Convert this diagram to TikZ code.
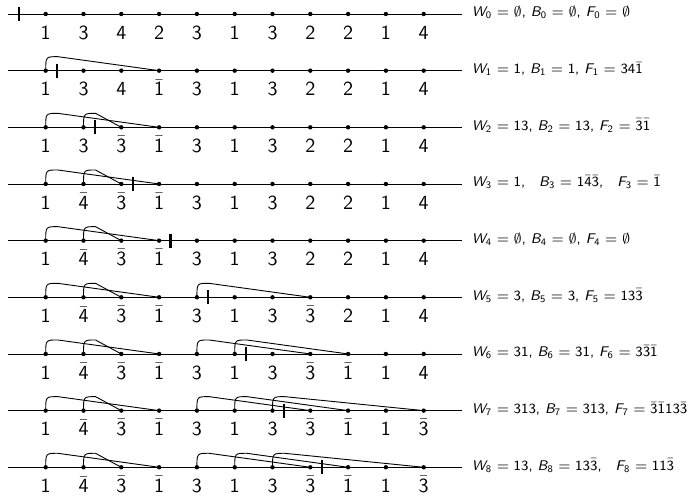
\documentclass[tikz,border=0pt]{standalone}
\usepackage{amsmath}
\tikzset{
  trail/.style={x=18.9pt,y=-28.33pt,font=\sffamily},
  pt/.style={circle,fill,inner sep=0pt,minimum size=2.2pt},
  cut/.style={line width=1.1pt},
  arc/.style={line width=0.45pt},
  digit/.style={anchor=base,inner sep=0.5pt,text height=7.2pt,text depth=0pt,yshift=-12.65pt},
  info/.style={font=\sffamily\fontsize{7}{8}\selectfont,inner sep=0pt,anchor=base west},
}
\newcommand\negl[1]{$\bar{\text{#1}}$}
\newcommand\wbf[3]{$\text{\slshape #1}_{\text{#2}} = \text{#3}$}

\begin{document}
\begin{tikzpicture}[trail]
  \useasboundingbox (-3.95pt,7pt) rectangle (341.55pt,-241.5pt);
  \foreach \r/\labs/\txt in {
    0/{1,3,4,2,3,1,3,2,2,1,4}/{\wbf{W}{0}{$\emptyset$}, \wbf{B}{0}{$\emptyset$}, \wbf{F}{0}{$\emptyset$}},
    1/{1,3,4,\negl{1},3,1,3,2,2,1,4}/{\wbf{W}{1}{1}, \wbf{B}{1}{1}, \wbf{F}{1}{34\negl{1}}},
    2/{1,3,\negl{3},\negl{1},3,1,3,2,2,1,4}/{\wbf{W}{2}{13}, \wbf{B}{2}{13}, \wbf{F}{2}{\negl{3}\negl{1}}},
    3/{1,\negl{4},\negl{3},\negl{1},3,1,3,2,2,1,4}/{\wbf{W}{3}{1},\quad \wbf{B}{3}{1\negl{4}\negl{3}},\quad \wbf{F}{3}{\negl{1}}},
    4/{1,\negl{4},\negl{3},\negl{1},3,1,3,2,2,1,4}/{\wbf{W}{4}{$\emptyset$}, \wbf{B}{4}{$\emptyset$}, \wbf{F}{4}{$\emptyset$}},
    5/{1,\negl{4},\negl{3},\negl{1},3,1,3,\negl{3},2,1,4}/{\wbf{W}{5}{3}, \wbf{B}{5}{3}, \wbf{F}{5}{13\negl{3}}},
    6/{1,\negl{4},\negl{3},\negl{1},3,1,3,\negl{3},\negl{1},1,4}/{\wbf{W}{6}{31}, \wbf{B}{6}{31}, \wbf{F}{6}{3\negl{3}\negl{1}}},
    7/{1,\negl{4},\negl{3},\negl{1},3,1,3,\negl{3},\negl{1},1,\negl{3}}/{\wbf{W}{7}{313}, \wbf{B}{7}{313}, \wbf{F}{7}{\negl{3}\negl{1}13\negl{3}}},
    8/{1,\negl{4},\negl{3},\negl{1},3,1,3,\negl{3},\negl{1},1,\negl{3}}/{\wbf{W}{8}{13}, \wbf{B}{8}{13\negl{3}},\quad \wbf{F}{8}{11\negl{3}}}%
  }{
    \coordinate (s\r) at (0,\r);
    \coordinate (e\r) at (12,\r);
    \draw[line width=0.45pt] (s\r) -- (e\r);
    \foreach \l [count=\i] in \labs {
      \node[pt] (d\r-\i) at (\i,\r) {};
      \node[digit] (l\r-\i) at (\i,\r) {\l};
    }
    \draw[cut] (\r+0.3,\r) ++(0,3.5pt) -- ++(0,-7pt);
    \node[info] (t\r) at ([shift={(5pt,-1.5pt)}]e\r) {\txt};
  }
  % arcs: from/to/first row
  \foreach \a/\b/\f in {1/4/1,2/3/2,5/8/5,6/9/6,7/11/7}
    \foreach \r in {\f,...,8}
      \draw[arc] (d\r-\a.center) .. controls +(0,7pt) .. ([shift={(6pt,7pt)}]d\r-\a.center) -- (d\r-\b.center);
\end{tikzpicture}
\end{document}
